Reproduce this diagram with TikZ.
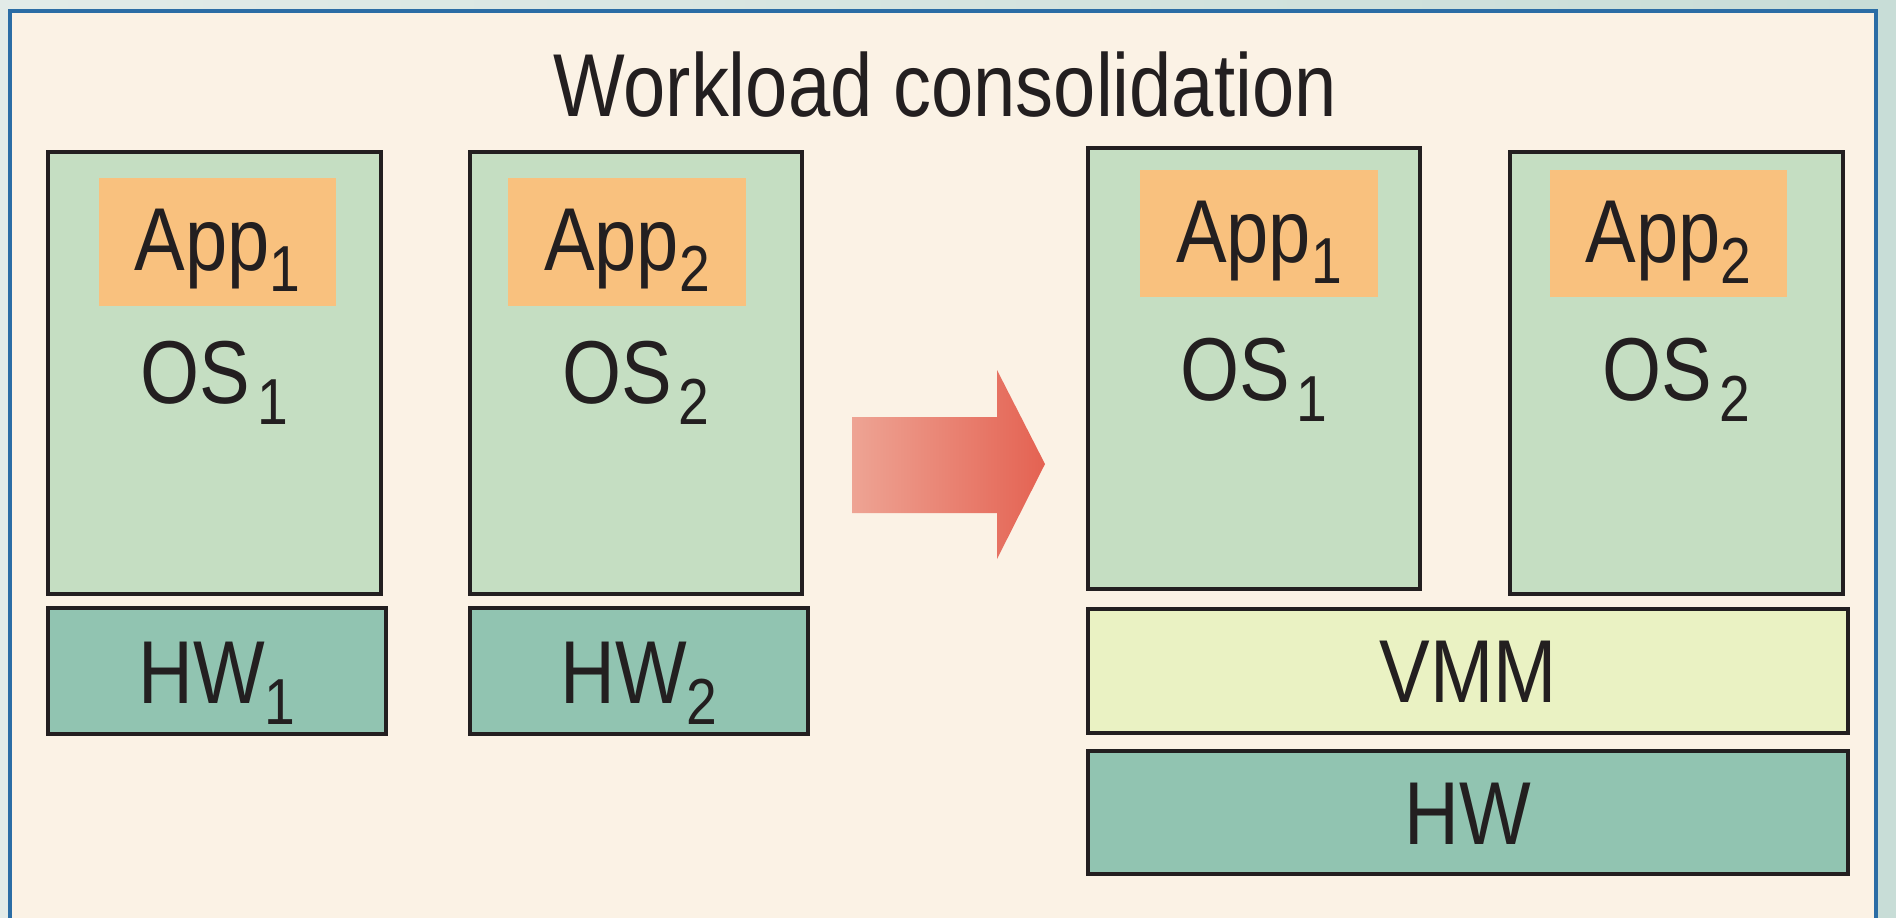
\documentclass[tikz,border=0pt]{standalone}
\usepackage{fontspec}
\setmainfont[FakeStretch=0.85]{Liberation Sans}
\definecolor{cream}{RGB}{251,242,229}
\definecolor{osgreen}{RGB}{197,222,194}
\definecolor{apporange}{RGB}{249,193,126}
\definecolor{hwteal}{RGB}{145,196,177}
\definecolor{vmmyellow}{RGB}{234,242,195}
\definecolor{ink}{RGB}{35,31,32}
\definecolor{frameblue}{RGB}{43,109,165}
\definecolor{outerleft}{RGB}{226,235,232}
\definecolor{outerright}{RGB}{200,221,215}
\definecolor{arrowlight}{RGB}{238,164,148}
\definecolor{arrowdark}{RGB}{228,98,82}
\newcommand\lowsub[1]{\raisebox{-0.21cm}{\fontsize{18.5pt}{20pt}\selectfont #1}}
\tikzset{
  layer/.style={draw=ink, line width=0.04cm, rectangle, inner sep=0pt, outer sep=0pt, anchor=north west},
  appbox/.style={rectangle, fill=apporange, inner sep=0pt, outer sep=0pt, anchor=north west},
  label/.style={anchor=base, inner sep=0pt, text=ink, font=\fontsize{25.4pt}{30pt}\selectfont},
}
\begin{document}
\begin{tikzpicture}[x=0.01cm, y=-0.01cm]
\useasboundingbox (0,0) rectangle (1896,917);
\clip (0,0) rectangle (1896,917);
% surrounding page and framed panel
\shade[left color=outerleft, right color=outerright] (0,0) rectangle (1896,917);
\draw[frameblue, fill=cream, line width=0.045cm] (10,11) rectangle (1876,940);

% title
\node[label] (title) at (945,116) {Workload consolidation};

% left: two separate machines
\node[layer, fill=osgreen, minimum width=3.33cm, minimum height=4.42cm] (osA) at (48,152) {};
\node[appbox, minimum width=2.37cm, minimum height=1.28cm] (appA) at (99,178) {};
\node[layer, fill=hwteal, minimum width=3.38cm, minimum height=1.26cm] (hwA) at (48,608) {};
\node[label] (appAt) at (217.5,270) {App\lowsub{1}};
\node[label] (osAt) at (214.5,403) {OS\hspace{0.07cm}\lowsub{1}};
\node[label] (hwAt) at (217,703) {HW\lowsub{1}};

\node[layer, fill=osgreen, minimum width=3.32cm, minimum height=4.42cm] (osB) at (470,152) {};
\node[appbox, minimum width=2.38cm, minimum height=1.28cm] (appB) at (508,178) {};
\node[layer, fill=hwteal, minimum width=3.38cm, minimum height=1.26cm] (hwB) at (470,608) {};
\node[label] (appBt) at (627,270) {App\lowsub{2}};
\node[label] (osBt) at (636,403) {OS\hspace{0.07cm}\lowsub{2}};
\node[label] (hwBt) at (639,703) {HW\lowsub{2}};

% consolidation arrow
\shade[left color=arrowlight, right color=arrowdark]
  (852,417) -- (997,417) -- (997,370) -- (1045,464) -- (997,559) -- (997,513) -- (852,513) -- cycle;

% right: both systems on one host through the VMM
\node[layer, fill=osgreen, minimum width=3.32cm, minimum height=4.41cm] (osC) at (1088,148) {};
\node[appbox, minimum width=2.38cm, minimum height=1.27cm] (appC) at (1140,170) {};
\node[label] (appCt) at (1259,262) {App\lowsub{1}};
\node[label] (osCt) at (1254,400) {OS\hspace{0.07cm}\lowsub{1}};

\node[layer, fill=osgreen, minimum width=3.33cm, minimum height=4.42cm] (osD) at (1510,152) {};
\node[appbox, minimum width=2.37cm, minimum height=1.27cm] (appD) at (1550,170) {};
\node[label] (appDt) at (1668.5,262) {App\lowsub{2}};
\node[label] (osDt) at (1676.5,400) {OS\hspace{0.07cm}\lowsub{2}};

\node[layer, fill=vmmyellow, minimum width=7.60cm, minimum height=1.24cm] (vmm) at (1088,609) {};
\node[label] (vmmt) at (1468,702) {VMM};
\node[layer, fill=hwteal, minimum width=7.60cm, minimum height=1.23cm] (hw) at (1088,751) {};
\node[label] (hwt) at (1468,844) {HW};
\end{tikzpicture}
\end{document}
